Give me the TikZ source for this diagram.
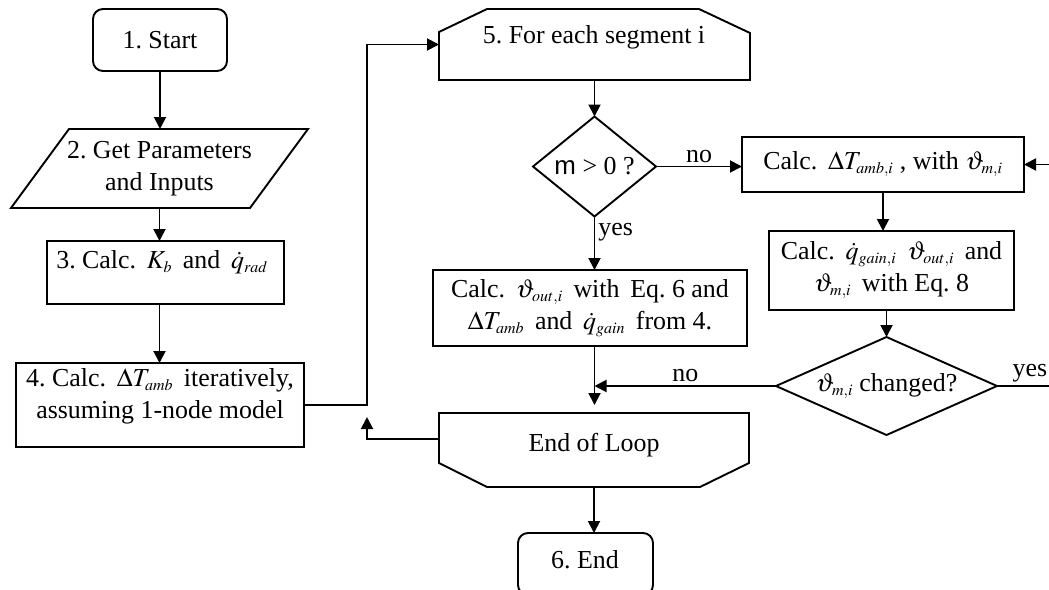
\documentclass[tikz,border=0pt]{standalone}
\usepackage{mathptmx}
\usepackage{fontspec}
\setmainfont{Liberation Serif}
\setsansfont{Liberation Sans}
\DeclareMathSizes{25.9}{25.9}{16}{12}
\usetikzlibrary{arrows.meta}
\begin{document}
\frenchspacing
\begin{tikzpicture}[x=1pt,y=-1pt, line width=1.9pt,
  font=\fontsize{25.9}{32}\selectfont,
  box/.style={draw, inner sep=0pt, outer sep=0pt, align=center},
  frame/.style={inner sep=0pt, outer sep=0pt, align=center},
  arr/.style={-{Triangle[length=12pt,width=12pt]}},
  lbl/.style={inner sep=3pt}]
\useasboundingbox (0,0) rectangle (1049,589);

% nodes
\node[box, rounded corners=10pt, minimum width=134pt, minimum height=62pt] (st) at (160,40) {1. Start};

\node[frame, minimum width=297pt, minimum height=79pt] (pg) at (159.5,168.5) {2. Get Parameters\\and Inputs};
\draw ([xshift=58pt]pg.north west) -- (pg.north east) -- ([xshift=-58pt]pg.south east) -- (pg.south west) -- cycle;

\node[box, minimum width=237pt, minimum height=63pt] (b3) at (165.5,272.5) {};
\node[frame] (t3) at (162,262) {3. Calc. \,$K_b$\, and \,$\dot q_{rad}$};

\node[box, minimum width=288pt, minimum height=84pt] (b4) at (160,405) {};
\node[frame] (t4) at (160,396) {4. Calc. \,$\Delta T_{amb}$\, iteratively,\\assuming 1-node model};

\node[frame, minimum width=311pt, minimum height=71pt] (b5) at (594.5,44.5) {};
\draw (b5.south west) -- ([yshift=-23pt]b5.north west) -- ([xshift=48pt]b5.north west)
  -- ([xshift=-51pt]b5.north east) -- ([yshift=-24pt]b5.north east) -- (b5.south east) -- cycle;
\node[frame] (t5) at (594,37) {5. For each segment i};

\node[frame, minimum width=123pt, minimum height=100pt] (dm) at (594.5,166.5) {\textsf{m} > 0 ?};
\draw (dm.north) -- (dm.east) -- (dm.south) -- (dm.west) -- cycle;

\node[box, minimum width=282pt, minimum height=55pt] (ba) at (883,164.5) {Calc. \,$\Delta T_{amb,i}$ , with $\vartheta_{m,i}$};

\node[box, minimum width=245pt, minimum height=79pt] (bg) at (891.5,270.5) {Calc. \,$\dot q_{gain,i}$\ \,$\vartheta_{out,i}$\, and\\$\vartheta_{m,i}$\, with Eq. 8};

\node[frame, minimum width=221pt, minimum height=98pt] (dc) at (886.5,386) {$\vartheta_{m,i}$ changed?};
\draw (dc.north) -- (dc.east) -- (dc.south) -- (dc.west) -- cycle;

\node[box, minimum width=314pt, minimum height=76pt] (bo) at (590,308) {Calc. \,$\vartheta_{out,i}$\, with \,Eq. 6 and\\$\Delta T_{amb}$\, and \,$\dot q_{gain}$\, from 4.};

\node[frame, minimum width=310pt, minimum height=74pt] (le) at (594,450) {};
\draw (le.north west) -- (le.north east) -- ([yshift=24pt]le.south east) -- ([xshift=-49pt]le.south east)
  -- ([xshift=48pt]le.south west) -- ([yshift=24pt]le.south west) -- cycle;
\node[frame] (tle) at (594,445) {End of Loop};

\node[box, rounded corners=10pt, minimum width=135pt, minimum height=62pt] (en) at (585.5,564) {};
\node[frame] (ten) at (585,560) {6. End};

% connectors
\draw[arr] (st.south) -- (st.south |- pg.north);
\draw[arr] (pg.south) -- (pg.south |- b3.north);
\draw[arr] (pg.south |- b3.south) -- (pg.south |- b4.north);
\draw[arr] (b4.east) -- ++(63,0) coordinate (j) |- (b5.west);
\draw[arr, shorten >=12pt] ([yshift=11pt]le.west) -| (j);
\draw[arr] (b5.south) -- (dm.north);
\draw[arr] (dm.east) -- (dm.east -| ba.west) node[midway, above, lbl] {no};
\draw[arr] (dm.south) -- (dm.south |- bo.north) node[pos=0.3, right, lbl] {yes};
\draw[arr] (ba.south) -- (ba.south |- bg.north);
\draw[arr] (dc.north |- bg.south) -- (dc.north);
\draw[arr] (dc.west) -- (dc.west -| dm.south) node[midway, above, lbl] {no};
\draw[arr] (dc.east) -- ++(70,0) node[pos=0.47, above, lbl] {yes} |- (ba.east);
\draw[arr, shorten >=8pt] (dm.south |- bo.south) -- (dm.south |- le.north);
\draw[arr] (le.south) -- (le.south |- en.north);
\end{tikzpicture}
\end{document}
